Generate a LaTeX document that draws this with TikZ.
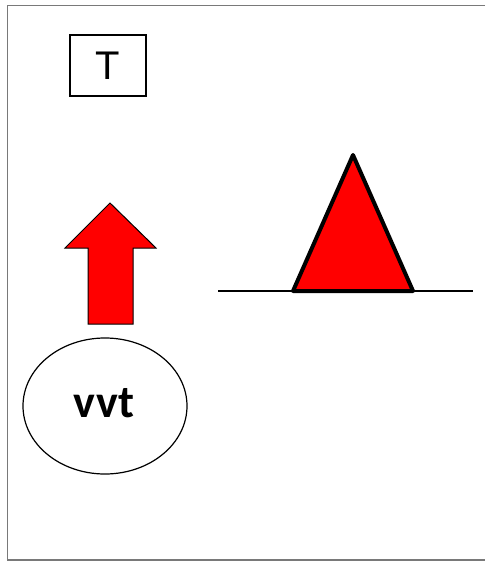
\documentclass[tikz,border=0pt]{standalone}
\usepackage{fontspec}
\setmainfont{Liberation Sans}
\newfontfamily\calfont{Carlito}
\usetikzlibrary{shapes.geometric}
\begin{document}
\begin{tikzpicture}[x=1pt,y=-1pt,
  frameline/.style={draw=gray!95!black,line width=1.5pt},
  labelbox/.style={draw,line width=1.3pt,minimum width=76pt,minimum height=61pt,inner sep=0pt},
  bubble/.style={draw,ellipse,line width=1.2pt,minimum width=164pt,minimum height=136pt,inner sep=0pt},
  redshape/.style={fill=red,draw=black}]
\useasboundingbox (0,0) rectangle (485,561);
\fill[white] (0,0) rectangle (485,561);
% outer frame (open on the right)
\draw[frameline] (485,5.5) -- (7.5,5.5) -- (7.5,560) -- (485,560);
% label box
\node[labelbox] (T) at (108,65.5) {\fontsize{40}{40}\selectfont T\hspace{4pt}};
% up arrow
\draw[redshape,line width=1pt,line join=miter]
  (110,203) -- (156,248) -- (133,248) -- (133,324) -- (88,324) -- (88,248) -- (65,248) -- cycle;
% ellipse with text
\node[bubble] (vvt) at (105,406) {};
\node (vvtlabel) at (104,403) {\calfont\bfseries\fontsize{46}{46}\selectfont vvt};
% ground line and triangle
\coordinate (gl) at (218,291);
\coordinate (gr) at (473,291);
\draw[line width=1.5pt] (gl) -- (gr);
\draw[redshape,line width=4pt,line join=round] (293,291) -- (353,155) -- (413,291) -- cycle;
\end{tikzpicture}
\end{document}
